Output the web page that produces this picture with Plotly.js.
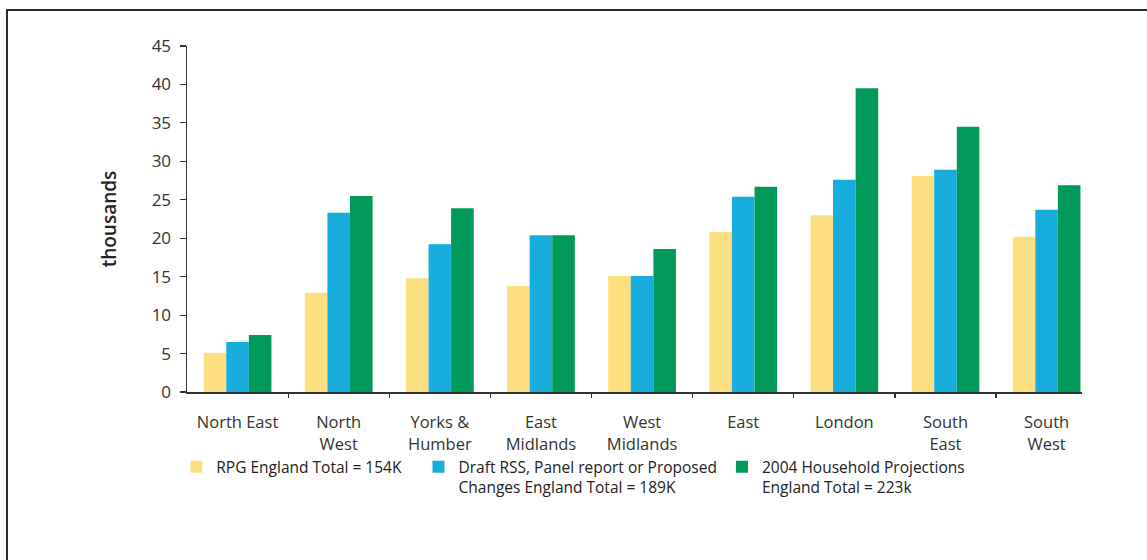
<!DOCTYPE html>
<html>
<head>
<meta charset="utf-8">
<script src="https://cdn.plot.ly/plotly-3.0.1.min.js"></script>
<style>
  html, body { margin: 0; padding: 0; background: #fff; overflow: hidden; }
  #wrap { position: relative; width: 1147px; height: 560px; overflow: hidden; }
  #chart { width: 1147px; height: 560px; }
  #frame { position: absolute; left: 6px; top: 9px; width: 1200px; height: 600px;
           border-top: 2px solid #2a2a2a; border-left: 2px solid #2a2a2a; pointer-events: none; }
</style>
</head>
<body>
<div id="wrap">
  <div id="chart"></div>
  <div id="frame"></div>
</div>
<script>
const categories = ["North East", "North<br>West", "Yorks &amp;<br>Humber", "East<br>Midlands",
                    "West<br>Midlands", "East", "London", "South<br>East", "South<br>West"];
const rpgValues   = [5.1, 12.9, 14.8, 13.8, 15.1, 20.8, 23.0, 28.1, 20.2];
const draftValues = [6.5, 23.3, 19.2, 20.4, 15.1, 25.4, 27.6, 28.9, 23.7];
const projValues  = [7.4, 25.5, 23.9, 20.4, 18.6, 26.7, 39.5, 34.5, 26.9];
const seriesNames = [
  "RPG England Total = 154K\u00a0\u00a0\u00a0",
  "Draft RSS, Panel report or Proposed<br>Changes England Total = 189K",
  "2004 Household Projections<br>England Total = 223k"
];
const yTickVals = [0, 5, 10, 15, 20, 25, 30, 35, 40, 45];
const colors = ["#FEDF80", "#17AEDD", "#00995A"];

const font = "'Open Sans', 'Noto Sans', sans-serif";
const idx = categories.map((_, i) => i);

const traces = [rpgValues, draftValues, projValues].map((vals, k) => ({
  type: "bar",
  x: idx,
  y: vals,
  name: seriesNames[k],
  marker: { color: colors[k], line: { width: 0 } },
  hoverinfo: "y+name"
}));

const layout = {
  width: 1147,
  height: 560,
  paper_bgcolor: "#ffffff",
  plot_bgcolor: "#ffffff",
  margin: { l: 187, r: 65, t: 46, b: 168 },
  barmode: "group",
  bargap: 0.33,
  bargroupgap: 0,
  font: { family: font, color: "#333333", size: 14 },
  xaxis: {
    type: "linear",
    range: [-0.5, 8.35],
    tickmode: "array",
    tickvals: idx,
    ticktext: categories,
    showgrid: false,
    zeroline: false,
    showline: true,
    linecolor: "#333333",
    linewidth: 1.5,
    ticks: "",
    tickfont: { size: 16.5, family: font, color: "#333333" },
    ticklabelstandoff: 15
  },
  xaxis2: {
    overlaying: "x",
    range: [-0.5, 8.35],
    tickmode: "array",
    tickvals: [0.5, 1.5, 2.5, 3.5, 4.5, 5.5, 6.5, 7.5],
    showticklabels: false,
    ticks: "outside",
    ticklen: 5,
    tickcolor: "#333333",
    tickwidth: 1.2,
    showgrid: false,
    zeroline: false,
    showline: false,
    anchor: "y"
  },
  yaxis: {
    range: [0, 45],
    tickmode: "array",
    tickvals: yTickVals,
    ticks: "outside",
    ticklen: 6,
    tickcolor: "#333333",
    tickwidth: 1.2,
    showgrid: false,
    zeroline: false,
    showline: true,
    linecolor: "#333333",
    linewidth: 1.5,
    ticklabelstandoff: 5,
    tickfont: { size: 17, family: font, color: "#333333" },
    title: { text: "thousands", font: { size: 19, family: font, color: "#222222", weight: 600 }, standoff: 30 }
  },
  showlegend: true,
  legend: {
    orientation: "h",
    x: -0.012,
    xanchor: "left",
    y: -0.168,
    yanchor: "top",
    valign: "top",
    font: { size: 15.5, family: font, color: "#222222" },
    bgcolor: "rgba(0,0,0,0)",
    traceorder: "normal",
    itemclick: false,
    itemdoubleclick: false
  }
};

traces.push({ type: "scatter", x: [0], y: [0], xaxis: "x2", yaxis: "y", mode: "markers",
              marker: { opacity: 0 }, showlegend: false, hoverinfo: "skip" });

Plotly.newPlot("chart", traces, layout, { displayModeBar: false, staticPlot: true });
</script>
</body>
</html>
